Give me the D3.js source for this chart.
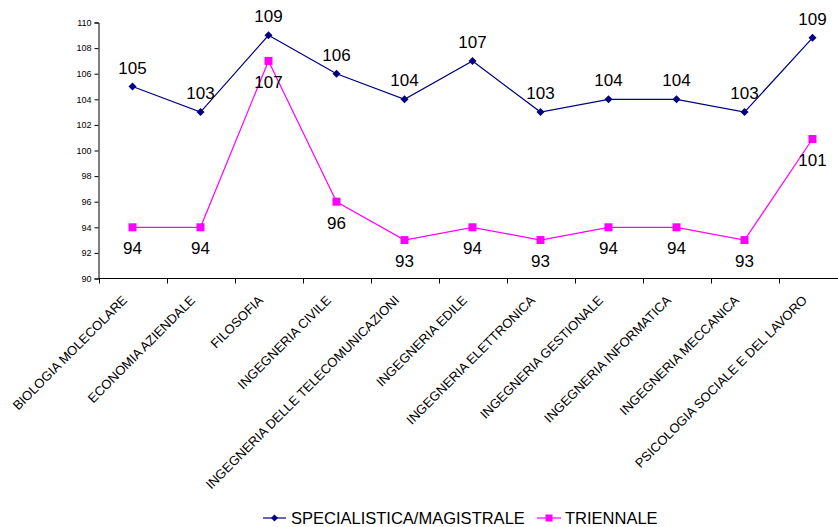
<!DOCTYPE html>
<html>
<head>
<meta charset="utf-8">
<script src="https://cdn.jsdelivr.net/npm/d3@7"></script>
<style>
  body { margin: 0; background: #fff; }
  svg { font-family: "Liberation Sans", Arial, sans-serif; }
</style>
</head>
<body>
<div id="chart"></div>
<script>
(function () {
  let width = 838,
    height = 527;

  let categories = [
    'BIOLOGIA MOLECOLARE', 'ECONOMIA AZIENDALE', 'FILOSOFIA', 'INGEGNERIA CIVILE',
    'INGEGNERIA DELLE TELECOMUNICAZIONI', 'INGEGNERIA EDILE', 'INGEGNERIA ELETTRONICA',
    'INGEGNERIA GESTIONALE', 'INGEGNERIA INFORMATICA', 'INGEGNERIA MECCANICA',
    'PSICOLOGIA SOCIALE E DEL LAVORO'
  ];
  let specialistica = [105, 103, 109, 106, 104, 107, 103, 104, 104, 103, 108.8];
  let triennale = [94, 94, 107, 96, 93, 94, 93, 94, 94, 93, 100.9];
  let yTicks = [90, 92, 94, 96, 98, 100, 102, 104, 106, 108, 110];

  let svg = d3.select('#chart').append('svg')
    .attr('width', width)
    .attr('height', height);

  let xScale = d3.scaleBand()
    .domain(categories)
    .range([98.5, 846.5]);

  let yScale = d3.scaleLinear()
    .domain([90, 110])
    .range([278.5, 22.5]);

  // y axis
  let yAxis = svg.append('g')
    .attr('transform', 'translate(98.5,0)')
    .call(d3.axisLeft(yScale).tickValues(yTicks).tickSize(4).tickPadding(3));
  yAxis.select('.domain').attr('stroke', '#000');
  yAxis.selectAll('text').style('font-size', '9px').attr('fill', '#000');

  // x axis (ticks at band boundaries)
  let xg = svg.append('g');
  xg.append('line')
    .attr('x1', 98.5).attr('x2', width)
    .attr('y1', yScale(90)).attr('y2', yScale(90))
    .attr('stroke', '#000');
  xg.selectAll('line.tick')
    .data(categories).enter()
    .append('line')
    .attr('class', 'tick')
    .attr('x1', (d) => Math.round(xScale(d)) + 0.5)
    .attr('x2', (d) => Math.round(xScale(d)) + 0.5)
    .attr('y1', yScale(90))
    .attr('y2', yScale(90) + 5)
    .attr('stroke', '#000');

  let cx = (d) => xScale(d) + xScale.bandwidth() / 2;

  xg.selectAll('text.xlabel')
    .data(categories).enter()
    .append('text')
    .attr('class', 'xlabel')
    .attr('text-anchor', 'end')
    .attr('transform', (d) => 'translate(' + (cx(d) - 4.5) + ',' + 301 + ') rotate(-45)')
    .style('font-size', '13px')
    .attr('fill', '#000')
    .text((d) => d);

  let line = d3.line()
    .x((d, i) => cx(categories[i]))
    .y((d) => yScale(d));

  // specialistica
  svg.append('path')
    .datum(specialistica)
    .attr('d', line)
    .attr('fill', 'none')
    .attr('stroke', '#000080')
    .attr('stroke-width', 1.2);

  svg.append('g').selectAll('path.diamond')
    .data(specialistica).enter()
    .append('path')
    .attr('class', 'diamond')
    .attr('transform', (d, i) => 'translate(' + cx(categories[i]) + ',' + yScale(d) + ')')
    .attr('d', 'M0,-4L4,0L0,4L-4,0Z')
    .attr('fill', '#000080');

  svg.append('g').selectAll('text.slabel')
    .data(specialistica).enter()
    .append('text')
    .attr('class', 'slabel')
    .attr('x', (d, i) => cx(categories[i]))
    .attr('y', (d) => yScale(d) - 13)
    .attr('text-anchor', 'middle')
    .style('font-size', '17px')
    .attr('fill', '#000')
    .text((d) => Math.round(d));

  // triennale
  svg.append('path')
    .datum(triennale)
    .attr('d', line)
    .attr('fill', 'none')
    .attr('stroke', '#ff00ff')
    .attr('stroke-width', 1.2);

  svg.append('g').selectAll('rect.square')
    .data(triennale).enter()
    .append('rect')
    .attr('class', 'square')
    .attr('x', (d, i) => cx(categories[i]) - 4)
    .attr('y', (d) => yScale(d) - 4)
    .attr('width', 8)
    .attr('height', 8)
    .attr('fill', '#ff00ff');

  svg.append('g').selectAll('text.tlabel')
    .data(triennale).enter()
    .append('text')
    .attr('class', 'tlabel')
    .attr('x', (d, i) => cx(categories[i]))
    .attr('y', (d) => yScale(d) + 27)
    .attr('text-anchor', 'middle')
    .style('font-size', '17px')
    .attr('fill', '#000')
    .text((d) => Math.round(d));

  // legend
  let legend = svg.append('g').attr('transform', 'translate(0,518)');
  legend.append('line')
    .attr('x1', 263).attr('x2', 286).attr('y1', 0).attr('y2', 0)
    .attr('stroke', '#000080').attr('stroke-width', 1.2);
  legend.append('path')
    .attr('transform', 'translate(274.5,0)')
    .attr('d', 'M0,-3.5L3.5,0L0,3.5L-3.5,0Z')
    .attr('fill', '#000080');
  legend.append('text')
    .attr('x', 291).attr('y', 6)
    .style('font-size', '16.5px')
    .text('SPECIALISTICA/MAGISTRALE');
  legend.append('line')
    .attr('x1', 537).attr('x2', 561).attr('y1', 0).attr('y2', 0)
    .attr('stroke', '#ff00ff').attr('stroke-width', 1.2);
  legend.append('rect')
    .attr('x', 545.5).attr('y', -3.5).attr('width', 7).attr('height', 7)
    .attr('fill', '#ff00ff');
  legend.append('text')
    .attr('x', 565).attr('y', 6)
    .style('font-size', '16.5px')
    .text('TRIENNALE');
})();
</script>
</body>
</html>
